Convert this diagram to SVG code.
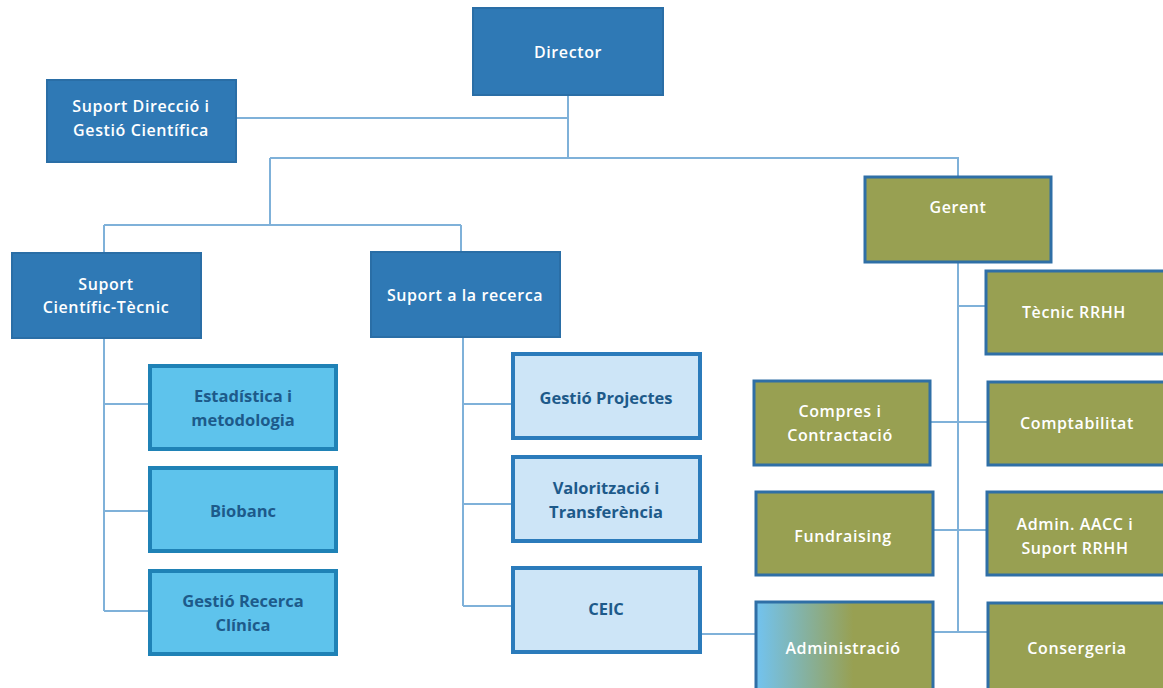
<svg xmlns="http://www.w3.org/2000/svg" width="1163" height="688" viewBox="0 0 1163 688">
<defs>
<style>
.dark rect{fill:#2f79b5;stroke:#2a6ea6;stroke-width:2}
.olive rect{fill:#98a052;stroke:#2f6fa6;stroke-width:3}
.cyan rect{fill:#5ec3ec;stroke:#1f82b6;stroke-width:4}
.pale rect{fill:#cde5f7;stroke:#2b7bbb;stroke-width:4}
.wt{font-family:"Open Sans","Liberation Sans",sans-serif;font-size:16px;font-weight:600;fill:#ffffff;text-anchor:middle;letter-spacing:0.6px}
.bt{font-family:"Open Sans","Liberation Sans",sans-serif;font-size:16.5px;font-weight:bold;fill:#1d5a8a;text-anchor:middle}
.conn{fill:none;stroke:#7fb1d9;stroke-width:2}
</style>
<linearGradient id="adm" x1="0" y1="0" x2="1" y2="0">
<stop offset="0" stop-color="#72c3f0"/>
<stop offset="0.55" stop-color="#98a052"/>
<stop offset="1" stop-color="#98a052"/>
</linearGradient>
</defs>
<rect width="1163" height="688" fill="#ffffff"/>
<g id="connectors" class="conn">
<path d="M568 95V158M236 118H568M270 158H958V178M270 158V225M104 225H461M104 225V253M461 225V252"/>
<path d="M104 338V611M104 404H149M104 511H149M104 611H149"/>
<path d="M463 337V606M463 404H512M463 504H512M463 606H512"/>
<path d="M701 634H755"/>
<path d="M958 262V632M958 306H985M930 422H987M933 530H986M933 632H987"/>
</g>
<g id="director" class="dark"><rect x="473" y="8" width="190" height="87"/><text class="wt" x="568" y="58">Director</text></g>
<g id="suport-direccio" class="dark"><rect x="47" y="80" width="189" height="82"/><text class="wt" x="141" y="112">Suport Direcció i</text><text class="wt" x="141" y="136">Gestió Científica</text></g>
<g id="suport-cientific" class="dark"><rect x="12" y="253" width="189" height="85"/><text class="wt" x="106" y="290">Suport</text><text class="wt" x="106" y="313">Científic-Tècnic</text></g>
<g id="suport-recerca" class="dark"><rect x="371" y="252" width="189" height="85"/><text class="wt" x="465" y="301">Suport a la recerca</text></g>
<g id="estadistica" class="cyan"><rect x="150" y="366" width="186" height="83"/><text class="bt" x="243" y="402">Estadística i</text><text class="bt" x="243" y="426">metodologia</text></g>
<g id="biobanc" class="cyan"><rect x="150" y="468" width="186" height="83"/><text class="bt" x="243" y="517">Biobanc</text></g>
<g id="gestio-recerca" class="cyan"><rect x="150" y="571" width="186" height="83"/><text class="bt" x="243" y="607">Gestió Recerca</text><text class="bt" x="243" y="631">Clínica</text></g>
<g id="gestio-projectes" class="pale"><rect x="513" y="354" width="187" height="84"/><text class="bt" x="606" y="404">Gestió Projectes</text></g>
<g id="valoritzacio" class="pale"><rect x="513" y="457" width="187" height="84"/><text class="bt" x="606" y="494">Valorització i</text><text class="bt" x="606" y="518">Transferència</text></g>
<g id="ceic" class="pale"><rect x="513" y="568" width="187" height="84"/><text class="bt" x="606" y="615">CEIC</text></g>
<g id="gerent" class="olive"><rect x="865" y="177" width="186" height="85"/><text class="wt" x="958" y="213">Gerent</text></g>
<g id="tecnic-rrhh" class="olive"><rect x="986" y="271" width="180" height="83"/><text class="wt" x="1074" y="318">Tècnic RRHH</text></g>
<g id="compres" class="olive"><rect x="754" y="381" width="176" height="84"/><text class="wt" x="840" y="417">Compres i</text><text class="wt" x="840" y="441">Contractació</text></g>
<g id="comptabilitat" class="olive"><rect x="988" y="382" width="178" height="83"/><text class="wt" x="1077" y="429">Comptabilitat</text></g>
<g id="fundraising" class="olive"><rect x="756" y="492" width="177" height="83"/><text class="wt" x="843" y="542">Fundraising</text></g>
<g id="admin-aacc" class="olive"><rect x="987" y="492" width="179" height="83"/><text class="wt" x="1075" y="530">Admin. AACC i</text><text class="wt" x="1075" y="554">Suport RRHH</text></g>
<g id="administracio"><rect x="756" y="602" width="177" height="88" fill="url(#adm)" stroke="#2f6fa6" stroke-width="3"/><text class="wt" x="843" y="654">Administració</text></g>
<g id="consergeria" class="olive"><rect x="988" y="603" width="178" height="87"/><text class="wt" x="1077" y="654">Consergeria</text></g>
</svg>
